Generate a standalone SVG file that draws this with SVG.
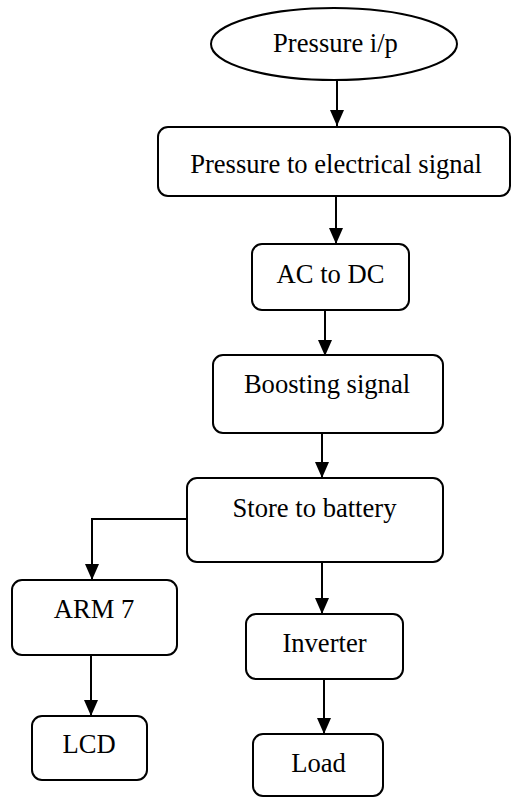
<svg xmlns="http://www.w3.org/2000/svg" width="512" height="797" viewBox="0 0 512 797">
<style>
.n{fill:#fff;stroke:#000;stroke-width:2}
.t{font-family:"Liberation Serif","Times New Roman",serif;font-size:26.6px;fill:#000;text-anchor:middle}
.c{fill:none;stroke:#000;stroke-width:2}
</style>
<defs>
<marker id="ah" markerUnits="userSpaceOnUse" viewBox="0 0 16 14" markerWidth="16" markerHeight="14" refX="16" refY="7" orient="auto">
<path d="M0,0 L16,7 L0,14 z" fill="#000"/>
</marker>
</defs>
<rect width="512" height="797" fill="#fff"/>
<g id="connectors">
<line class="c" x1="337" y1="80" x2="337" y2="126" marker-end="url(#ah)"/>
<line class="c" x1="336" y1="196" x2="336" y2="244" marker-end="url(#ah)"/>
<line class="c" x1="325" y1="310" x2="325" y2="356" marker-end="url(#ah)"/>
<line class="c" x1="322" y1="433" x2="322" y2="478" marker-end="url(#ah)"/>
<path class="c" d="M187,519 H92 V580" marker-end="url(#ah)"/>
<line class="c" x1="322" y1="562" x2="322" y2="614" marker-end="url(#ah)"/>
<line class="c" x1="91" y1="655" x2="91" y2="716" marker-end="url(#ah)"/>
<line class="c" x1="324" y1="679" x2="324" y2="734" marker-end="url(#ah)"/>
</g>
<g id="n1"><ellipse class="n" cx="334" cy="44" rx="123" ry="36"/><text class="t" x="335.5" y="52">Pressure i/p</text></g>
<g id="n2"><rect class="n" x="158" y="127" width="352" height="69" rx="10"/><text class="t" x="336" y="173">Pressure to electrical signal</text></g>
<g id="n3"><rect class="n" x="252" y="244" width="157" height="66" rx="10"/><text class="t" x="330.5" y="283">AC to DC</text></g>
<g id="n4"><rect class="n" x="213" y="355" width="230" height="78" rx="10"/><text class="t" x="327" y="393">Boosting signal</text></g>
<g id="n5"><rect class="n" x="187" y="478" width="256" height="84" rx="10"/><text class="t" x="314.5" y="517">Store to battery</text></g>
<g id="n6"><rect class="n" x="12" y="580" width="165" height="75" rx="10"/><text class="t" x="94" y="618">ARM 7</text></g>
<g id="n7"><rect class="n" x="246" y="614" width="157" height="65" rx="10"/><text class="t" x="324.5" y="652">Inverter</text></g>
<g id="n8"><rect class="n" x="32" y="716" width="115" height="64" rx="10"/><text class="t" x="89" y="753">LCD</text></g>
<g id="n9"><rect class="n" x="253" y="734" width="130" height="62" rx="10"/><text class="t" x="318.5" y="772">Load</text></g>
</svg>
